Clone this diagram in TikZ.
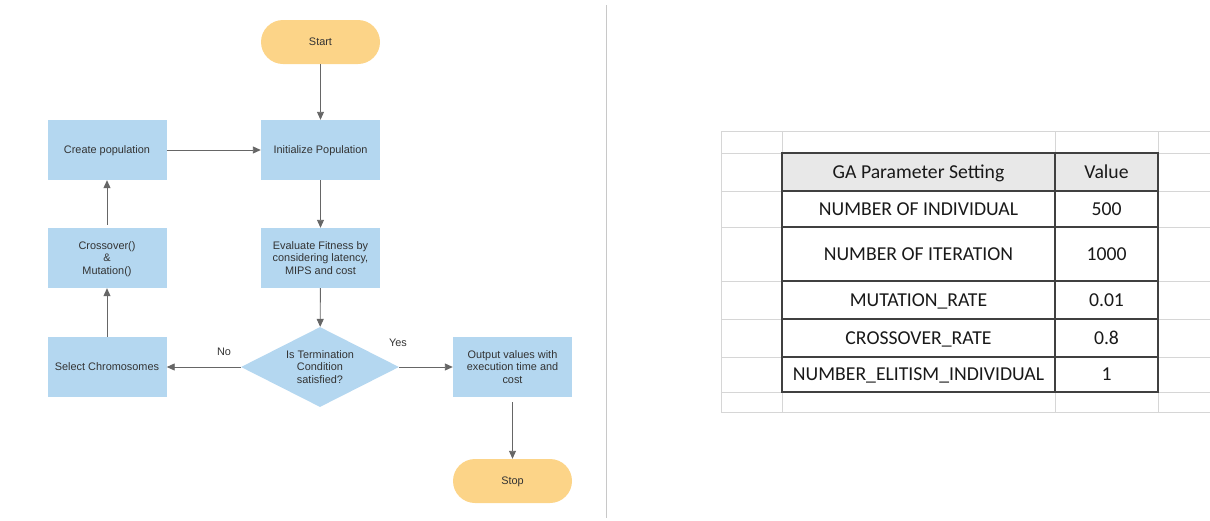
\documentclass[tikz,border=0pt]{standalone}
\usepackage{fontspec}
\setmainfont{Liberation Sans}
\newfontfamily\calfont{Carlito}
\usetikzlibrary{shapes.geometric,arrows.meta}
\definecolor{boxblue}{HTML}{B4D7F0}
\definecolor{termyellow}{HTML}{FCD488}
\definecolor{linegray}{HTML}{666666}
\definecolor{txtgray}{HTML}{333333}
\definecolor{gridgray}{HTML}{D6D6D6}
\definecolor{headgray}{HTML}{E8E8E8}
\definecolor{rulegray}{HTML}{404040}
\definecolor{splitgray}{HTML}{C8C8C8}
\begin{document}
\begin{tikzpicture}[x=1pt,y=-1pt,
  flowtext/.style={font=\fontsize{10.9}{12.5}\selectfont, text=txtgray, align=center, text depth=0pt},
  procbox/.style={flowtext, rectangle, fill=boxblue, minimum width=119pt, minimum height=60pt, inner sep=0pt},
  termbox/.style={flowtext, rectangle, rounded corners=22pt, fill=termyellow, minimum width=119pt, minimum height=44pt, inner sep=0pt},
  decbox/.style={flowtext, diamond, aspect=2, fill=boxblue, minimum width=158pt, minimum height=80pt, inner sep=0pt},
  flowarrow/.style={draw=linegray, line width=0.9pt, -{Triangle[length=8pt,width=7pt]}},
  edgelabel/.style={flowtext},
  gridline/.style={draw=gridgray, line width=0.9pt},
  tablerule/.style={draw=rulegray, line width=1.1pt},
  celltext/.style={font=\calfont\fontsize{19.7}{22}\selectfont, text=black!90, inner sep=0pt, text height=12.7pt, text depth=0pt}
]
\useasboundingbox (0,0) rectangle (1210,520);

% flowchart nodes
\node[termbox] (start) at (320.5,42) {Start};
\node[procbox] (init) at (320.5,150) {Initialize Population};
\node[procbox] (create) at (107,150) {Create population};
\node[procbox] (eval) at (320.5,258) {Evaluate Fitness by\\considering latency,\\MIPS and cost};
\node[procbox] (cross) at (107,258) {Crossover()\\\&\\Mutation()};
\node[decbox] (cond) at (320,367) {Is Termination\\Condition\\satisfied?};
\node[procbox] (select) at (107,367) {Select Chromosomes};
\node[procbox] (output) at (512.5,367) {Output values with\\execution time and\\cost};
\node[termbox] (stop) at (512.5,481) {Stop};

% flowchart connectors
\draw[flowarrow] (start) -- (init);
\draw[flowarrow] (init) -- (eval);
\draw[flowarrow] (eval) -- (cond);
\draw[flowarrow] (cond) -- (output);
\draw[flowarrow] (cond) -- (select);
\draw[flowarrow] (select) -- (cross);
\draw[flowarrow, shorten <=3pt] (cross) -- (create);
\draw[flowarrow] (create) -- (init);
\draw[flowarrow, shorten <=5pt] (output) -- (stop);
\node[edgelabel] (nolbl) at (224,352) {No};
\node[edgelabel] (yeslbl) at (398,343) {Yes};

% divider between the two halves
\draw[draw=splitgray, line width=1pt] (606,5) -- (606,518);

% spreadsheet grid behind the table
\foreach \y in {131,153,191,227,281,319,357,392,412}
  \draw[gridline] (721,\y) -- (1210,\y);
\foreach \x in {721,782,1055,1158}
  \draw[gridline] (\x,131) -- (\x,412);

% parameter table
\fill[headgray] (782,153) rectangle (1158,191);
\draw[tablerule] (782,153) rectangle (1158,392);
\foreach \y in {191,227,281,319,357}
  \draw[tablerule] (782,\y) -- (1158,\y);
\draw[tablerule] (1055,153) -- (1055,392);

\node[celltext] (h1) at (918.5,172) {GA Parameter Setting};
\node[celltext] (h2) at (1106.5,172) {Value};
\node[celltext] (r1a) at (918.5,209) {NUMBER OF INDIVIDUAL};
\node[celltext] (r1b) at (1106.5,209) {500};
\node[celltext] (r2a) at (918.5,254) {NUMBER OF ITERATION};
\node[celltext] (r2b) at (1106.5,254) {1000};
\node[celltext] (r3a) at (918.5,300) {MUTATION\_RATE};
\node[celltext] (r3b) at (1106.5,300) {0.01};
\node[celltext] (r4a) at (918.5,338) {CROSSOVER\_RATE};
\node[celltext] (r4b) at (1106.5,338) {0.8};
\node[celltext] (r5a) at (918.5,374.5) {NUMBER\_ELITISM\_INDIVIDUAL};
\node[celltext] (r5b) at (1106.5,374.5) {1};
\end{tikzpicture}
\end{document}
